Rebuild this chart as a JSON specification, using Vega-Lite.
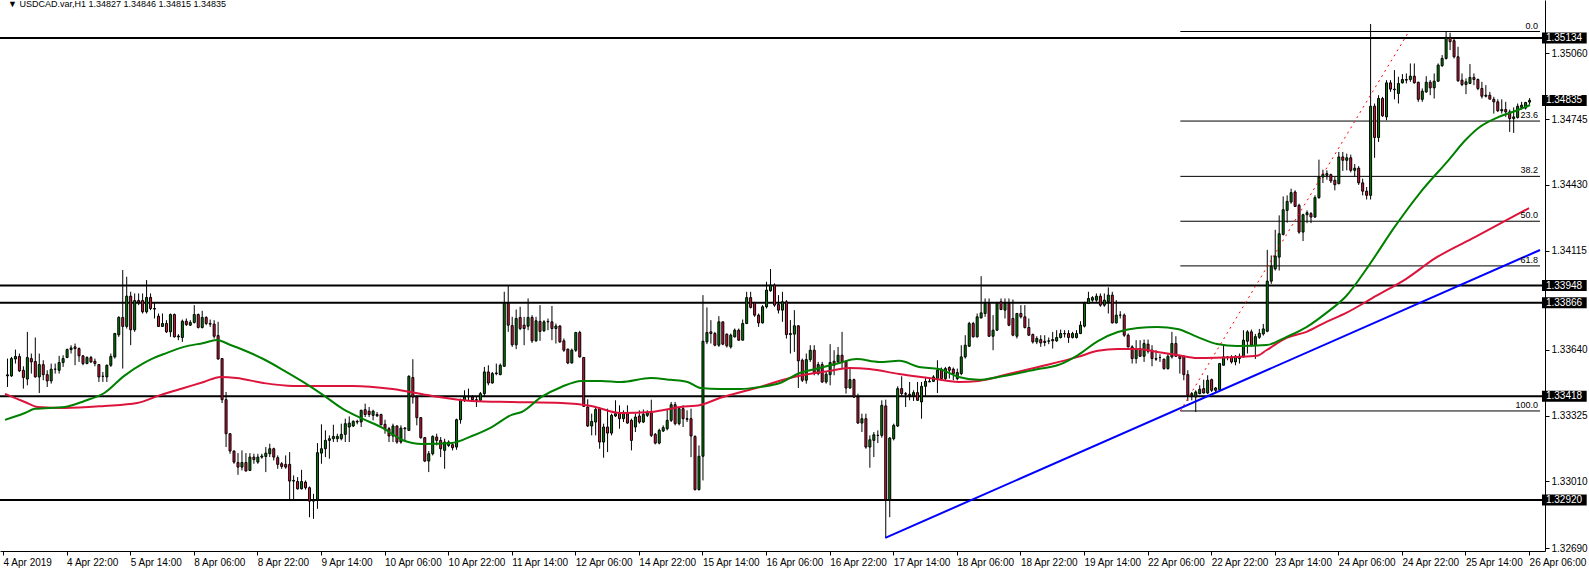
{
"$schema":"https://vega.github.io/schema/vega-lite/v6.json",
"width":1545,"height":551,"autosize":"none",
"padding":{"left":0,"top":0,"right":44,"bottom":18},
"background":"white",
"config":{"view":{"stroke":null},"font":"Liberation Sans"},
"datasets":{
"caption":[{"t":"▼ USDCAD.var,H1  1.34827 1.34846 1.34815 1.34835"}],
"levels":[{"p":1.35134},{"p":1.33948},{"p":1.33866},{"p":1.33418},{"p":1.3292}],
"fib":[{"p":1.35165,"t":"0.0"},{"p":1.34736,"t":"23.6"},{"p":1.34471,"t":"38.2"},{"p":1.34256,"t":"50.0"},{"p":1.34042,"t":"61.8"},{"p":1.33347,"t":"100.0"}],
"tags":[{"p":1.35134},{"p":1.34835},{"p":1.33948},{"p":1.33866},{"p":1.33418},{"p":1.3292}],
"trend":[{"i1":221,"p1":1.32739,"i2":385.75,"p2":1.34118}],
"fibline":[{"i1":295.25,"p1":1.33347,"i2":352.75,"p2":1.35165}],
"gma":[{"i":-0.5,"p":1.33304},{"i":4.5,"p":1.33337},{"i":7,"p":1.33357},{"i":14.5,"p":1.33366},{"i":19.5,"p":1.33395},{"i":24.5,"p":1.33433},{"i":29.5,"p":1.33515},{"i":34.5,"p":1.33577},{"i":37,"p":1.33601},{"i":39.5,"p":1.3362},{"i":44.5,"p":1.33654},{"i":49.5,"p":1.33673},{"i":52.75,"p":1.33687},{"i":56.25,"p":1.33663},{"i":59.5,"p":1.33639},{"i":64.5,"p":1.33596},{"i":69.5,"p":1.33543},{"i":74.5,"p":1.33486},{"i":79.5,"p":1.33424},{"i":84.5,"p":1.33357},{"i":89.5,"p":1.33309},{"i":94.5,"p":1.33266},{"i":99.5,"p":1.33208},{"i":104.5,"p":1.33189},{"i":112,"p":1.33194},{"i":117,"p":1.33227},{"i":122,"p":1.3327},{"i":127,"p":1.33328},{"i":129.5,"p":1.33342},{"i":134.5,"p":1.33414},{"i":139.5,"p":1.33462},{"i":144.5,"p":1.33491},{"i":149.5,"p":1.33491},{"i":154.5,"p":1.33486},{"i":162,"p":1.33505},{"i":167,"p":1.33496},{"i":171.25,"p":1.33486},{"i":174.5,"p":1.33457},{"i":179.5,"p":1.33452},{"i":184.5,"p":1.33452},{"i":189.5,"p":1.33462},{"i":194.5,"p":1.33481},{"i":199.5,"p":1.33529},{"i":204.5,"p":1.33553},{"i":209.5,"p":1.33577},{"i":213.75,"p":1.33596},{"i":219.5,"p":1.33582},{"i":224.5,"p":1.33587},{"i":229.5,"p":1.33558},{"i":234.5,"p":1.33548},{"i":239.5,"p":1.3351},{"i":244.5,"p":1.33496},{"i":249.5,"p":1.3351},{"i":259.5,"p":1.33548},{"i":264.5,"p":1.33567},{"i":269.5,"p":1.33615},{"i":274.5,"p":1.33682},{"i":279.5,"p":1.33725},{"i":284.5,"p":1.33745},{"i":289.5,"p":1.33749},{"i":294.5,"p":1.3374},{"i":299.5,"p":1.33702},{"i":304.5,"p":1.33668},{"i":309.5,"p":1.33658},{"i":317,"p":1.33663},{"i":322,"p":1.33702},{"i":327,"p":1.33749},{"i":332,"p":1.33817},{"i":337,"p":1.33898},{"i":342.75,"p":1.34046},{"i":349,"p":1.34224},{"i":355.5,"p":1.34391},{"i":362.75,"p":1.34549},{"i":367,"p":1.34645},{"i":370.25,"p":1.34703},{"i":375.25,"p":1.34755},{"i":380.25,"p":1.34789},{"i":383.25,"p":1.34813}],
"rma":[{"i":-0.5,"p":1.33429},{"i":4.5,"p":1.3339},{"i":7.75,"p":1.33366},{"i":14.5,"p":1.33361},{"i":24.5,"p":1.33371},{"i":32.75,"p":1.33385},{"i":38.75,"p":1.33424},{"i":44.5,"p":1.33457},{"i":49.5,"p":1.33486},{"i":53.75,"p":1.3351},{"i":57.75,"p":1.33505},{"i":64.5,"p":1.33481},{"i":72,"p":1.33467},{"i":87,"p":1.33467},{"i":97,"p":1.33452},{"i":107,"p":1.33419},{"i":117,"p":1.33395},{"i":127,"p":1.3339},{"i":139.5,"p":1.33385},{"i":147,"p":1.33371},{"i":154.5,"p":1.33337},{"i":162,"p":1.33342},{"i":169.5,"p":1.33366},{"i":174.5,"p":1.33376},{"i":179.5,"p":1.3341},{"i":189.5,"p":1.33462},{"i":197,"p":1.33505},{"i":207,"p":1.33539},{"i":212,"p":1.33553},{"i":217,"p":1.33548},{"i":224.5,"p":1.33524},{"i":232,"p":1.33505},{"i":239.5,"p":1.33486},{"i":244.5,"p":1.33491},{"i":252,"p":1.33524},{"i":259.5,"p":1.33558},{"i":269.5,"p":1.33606},{"i":274.5,"p":1.33635},{"i":279.5,"p":1.33644},{"i":284.5,"p":1.33644},{"i":289.5,"p":1.3363},{"i":294.5,"p":1.33615},{"i":299.5,"p":1.33601},{"i":309.5,"p":1.33606},{"i":314.5,"p":1.33611},{"i":317,"p":1.33639},{"i":322,"p":1.33697},{"i":327,"p":1.33726},{"i":332,"p":1.33774},{"i":337,"p":1.33817},{"i":344.5,"p":1.33898},{"i":352,"p":1.33979},{"i":359.5,"p":1.3408},{"i":369.5,"p":1.34181},{"i":383,"p":1.34319}],
"candles":[
{"i":0,"o":1.33515,"h":1.33598,"l":1.33462,"c":1.3352},
{"i":1,"o":1.33515,"h":1.33606,"l":1.3351,"c":1.33598},
{"i":2,"o":1.33596,"h":1.33641,"l":1.33574,"c":1.33608},
{"i":3,"o":1.33608,"h":1.33622,"l":1.33534,"c":1.33539},
{"i":4,"o":1.33542,"h":1.33561,"l":1.33454,"c":1.33507},
{"i":5,"o":1.335,"h":1.33726,"l":1.3347,"c":1.33603},
{"i":6,"o":1.33598,"h":1.33622,"l":1.33526,"c":1.33582},
{"i":7,"o":1.33584,"h":1.33699,"l":1.33507,"c":1.3351},
{"i":8,"o":1.3351,"h":1.33622,"l":1.33433,"c":1.33569},
{"i":9,"o":1.33569,"h":1.3359,"l":1.33494,"c":1.33521},
{"i":10,"o":1.33521,"h":1.33542,"l":1.33462,"c":1.33491},
{"i":11,"o":1.33491,"h":1.33574,"l":1.33478,"c":1.33547},
{"i":12,"o":1.33547,"h":1.33574,"l":1.33526,"c":1.33547},
{"i":13,"o":1.33542,"h":1.33611,"l":1.33526,"c":1.33579},
{"i":14,"o":1.33579,"h":1.33614,"l":1.33558,"c":1.33598},
{"i":15,"o":1.33603,"h":1.33646,"l":1.336,"c":1.33641},
{"i":16,"o":1.33641,"h":1.33662,"l":1.33622,"c":1.33649},
{"i":17,"o":1.33654,"h":1.3367,"l":1.33566,"c":1.33646},
{"i":18,"o":1.33646,"h":1.33651,"l":1.33582,"c":1.33611},
{"i":19,"o":1.33611,"h":1.33614,"l":1.33566,"c":1.33574},
{"i":20,"o":1.33574,"h":1.33609,"l":1.33571,"c":1.33603},
{"i":21,"o":1.33603,"h":1.33611,"l":1.33577,"c":1.33582},
{"i":22,"o":1.33585,"h":1.33598,"l":1.33561,"c":1.33574},
{"i":23,"o":1.33569,"h":1.33571,"l":1.33486,"c":1.3351},
{"i":24,"o":1.33513,"h":1.33534,"l":1.33486,"c":1.33513},
{"i":25,"o":1.3351,"h":1.33569,"l":1.33486,"c":1.33566},
{"i":26,"o":1.33566,"h":1.33622,"l":1.33558,"c":1.33608},
{"i":27,"o":1.33606,"h":1.33721,"l":1.33598,"c":1.33718},
{"i":28,"o":1.33712,"h":1.33801,"l":1.33702,"c":1.33795},
{"i":29,"o":1.33795,"h":1.34022,"l":1.3355,"c":1.33752},
{"i":30,"o":1.33752,"h":1.3399,"l":1.33742,"c":1.33897},
{"i":31,"o":1.33897,"h":1.33918,"l":1.33662,"c":1.33736},
{"i":32,"o":1.33736,"h":1.3391,"l":1.33726,"c":1.33876},
{"i":33,"o":1.33876,"h":1.3391,"l":1.33854,"c":1.33866},
{"i":34,"o":1.33876,"h":1.3391,"l":1.33814,"c":1.33822},
{"i":35,"o":1.33822,"h":1.33974,"l":1.33814,"c":1.33891},
{"i":36,"o":1.33891,"h":1.3391,"l":1.3383,"c":1.33838},
{"i":37,"o":1.33838,"h":1.33865,"l":1.3379,"c":1.33835},
{"i":38,"o":1.33801,"h":1.33814,"l":1.3375,"c":1.33752},
{"i":39,"o":1.33752,"h":1.33814,"l":1.3375,"c":1.33766},
{"i":40,"o":1.33766,"h":1.33782,"l":1.33721,"c":1.33726},
{"i":41,"o":1.33726,"h":1.33814,"l":1.33702,"c":1.33809},
{"i":42,"o":1.33809,"h":1.33814,"l":1.33699,"c":1.33702},
{"i":43,"o":1.33702,"h":1.33715,"l":1.33686,"c":1.33706},
{"i":44,"o":1.33699,"h":1.33785,"l":1.33678,"c":1.33777},
{"i":45,"o":1.33777,"h":1.3379,"l":1.33754,"c":1.33761},
{"i":46,"o":1.33758,"h":1.33782,"l":1.33754,"c":1.33771},
{"i":47,"o":1.33771,"h":1.33854,"l":1.33766,"c":1.33809},
{"i":48,"o":1.33809,"h":1.33814,"l":1.33742,"c":1.33747},
{"i":49,"o":1.33747,"h":1.33827,"l":1.33742,"c":1.33795},
{"i":50,"o":1.33795,"h":1.33801,"l":1.33758,"c":1.33766},
{"i":51,"o":1.33766,"h":1.33785,"l":1.3375,"c":1.33763},
{"i":52,"o":1.33763,"h":1.33782,"l":1.33694,"c":1.33705},
{"i":53,"o":1.33708,"h":1.33774,"l":1.33593,"c":1.33596},
{"i":54,"o":1.33598,"h":1.33598,"l":1.33385,"c":1.33401},
{"i":55,"o":1.33401,"h":1.33438,"l":1.33174,"c":1.33238},
{"i":56,"o":1.33238,"h":1.33238,"l":1.33142,"c":1.33155},
{"i":57,"o":1.33155,"h":1.33158,"l":1.33094,"c":1.33102},
{"i":58,"o":1.331,"h":1.33145,"l":1.33041,"c":1.33078},
{"i":59,"o":1.33078,"h":1.33158,"l":1.33062,"c":1.331},
{"i":60,"o":1.331,"h":1.33145,"l":1.33059,"c":1.33059},
{"i":61,"o":1.33062,"h":1.33145,"l":1.33059,"c":1.33126},
{"i":62,"o":1.33126,"h":1.33142,"l":1.33094,"c":1.33114},
{"i":63,"o":1.33102,"h":1.33142,"l":1.33094,"c":1.33126},
{"i":64,"o":1.33126,"h":1.33142,"l":1.33118,"c":1.33131},
{"i":65,"o":1.33129,"h":1.33174,"l":1.33054,"c":1.33145},
{"i":66,"o":1.33142,"h":1.3319,"l":1.33126,"c":1.33166},
{"i":67,"o":1.33166,"h":1.33171,"l":1.3311,"c":1.33126},
{"i":68,"o":1.33123,"h":1.33134,"l":1.3307,"c":1.33091},
{"i":69,"o":1.33094,"h":1.33102,"l":1.3307,"c":1.33081},
{"i":70,"o":1.33091,"h":1.33134,"l":1.3307,"c":1.33078},
{"i":71,"o":1.33091,"h":1.3315,"l":1.32921,"c":1.33011},
{"i":72,"o":1.33011,"h":1.33038,"l":1.32921,"c":1.33014},
{"i":73,"o":1.33009,"h":1.3303,"l":1.3297,"c":1.32974},
{"i":74,"o":1.32974,"h":1.33065,"l":1.32971,"c":1.33009},
{"i":75,"o":1.33006,"h":1.33014,"l":1.3297,"c":1.32979},
{"i":76,"o":1.32979,"h":1.32985,"l":1.32838,"c":1.32915},
{"i":77,"o":1.32915,"h":1.3295,"l":1.3283,"c":1.32921},
{"i":78,"o":1.32921,"h":1.33193,"l":1.32878,"c":1.33147},
{"i":79,"o":1.33145,"h":1.33283,"l":1.33094,"c":1.33166},
{"i":80,"o":1.33166,"h":1.33254,"l":1.33126,"c":1.33206},
{"i":81,"o":1.33206,"h":1.3323,"l":1.33118,"c":1.33214},
{"i":82,"o":1.33214,"h":1.33281,"l":1.33198,"c":1.33225},
{"i":83,"o":1.33214,"h":1.33238,"l":1.33198,"c":1.33225},
{"i":84,"o":1.33214,"h":1.33286,"l":1.33206,"c":1.33235},
{"i":85,"o":1.33235,"h":1.3331,"l":1.33198,"c":1.33286},
{"i":86,"o":1.3327,"h":1.33321,"l":1.33198,"c":1.33289},
{"i":87,"o":1.33275,"h":1.33302,"l":1.3327,"c":1.33297},
{"i":88,"o":1.33294,"h":1.33305,"l":1.33283,"c":1.33297},
{"i":89,"o":1.33294,"h":1.33353,"l":1.3327,"c":1.3335},
{"i":90,"o":1.33353,"h":1.33382,"l":1.33318,"c":1.3333},
{"i":91,"o":1.33346,"h":1.33366,"l":1.33318,"c":1.3333},
{"i":92,"o":1.33326,"h":1.33353,"l":1.33302,"c":1.33346},
{"i":93,"o":1.3333,"h":1.33342,"l":1.33318,"c":1.33324},
{"i":94,"o":1.3333,"h":1.33334,"l":1.33278,"c":1.33281},
{"i":95,"o":1.33283,"h":1.33305,"l":1.33238,"c":1.33262},
{"i":96,"o":1.33262,"h":1.3327,"l":1.33198,"c":1.33227},
{"i":97,"o":1.33227,"h":1.33286,"l":1.33198,"c":1.33275},
{"i":98,"o":1.33275,"h":1.33278,"l":1.3319,"c":1.33198},
{"i":99,"o":1.33198,"h":1.33278,"l":1.3319,"c":1.33265},
{"i":100,"o":1.33265,"h":1.3327,"l":1.33198,"c":1.33262},
{"i":101,"o":1.33254,"h":1.33518,"l":1.33251,"c":1.33513},
{"i":102,"o":1.33507,"h":1.33595,"l":1.33382,"c":1.33414},
{"i":103,"o":1.33414,"h":1.33422,"l":1.33278,"c":1.33315},
{"i":104,"o":1.33315,"h":1.33318,"l":1.33214,"c":1.33219},
{"i":105,"o":1.33219,"h":1.33222,"l":1.33102,"c":1.33107},
{"i":106,"o":1.33107,"h":1.33155,"l":1.33054,"c":1.33142},
{"i":107,"o":1.33142,"h":1.3323,"l":1.33134,"c":1.33225},
{"i":108,"o":1.33222,"h":1.33238,"l":1.33182,"c":1.33206},
{"i":109,"o":1.33206,"h":1.33222,"l":1.33126,"c":1.33166},
{"i":110,"o":1.33158,"h":1.33214,"l":1.3307,"c":1.33198},
{"i":111,"o":1.33182,"h":1.33206,"l":1.33174,"c":1.33198},
{"i":112,"o":1.33185,"h":1.33198,"l":1.33158,"c":1.33171},
{"i":113,"o":1.33174,"h":1.3331,"l":1.33161,"c":1.33305},
{"i":114,"o":1.33305,"h":1.33406,"l":1.33286,"c":1.33398},
{"i":115,"o":1.33398,"h":1.33446,"l":1.3339,"c":1.33414},
{"i":116,"o":1.33414,"h":1.33454,"l":1.33398,"c":1.33417},
{"i":117,"o":1.33414,"h":1.33422,"l":1.3339,"c":1.33401},
{"i":118,"o":1.33401,"h":1.33414,"l":1.33366,"c":1.33398},
{"i":119,"o":1.33398,"h":1.33438,"l":1.3339,"c":1.3343},
{"i":120,"o":1.3343,"h":1.33558,"l":1.33414,"c":1.33534},
{"i":121,"o":1.33534,"h":1.33566,"l":1.3347,"c":1.33481},
{"i":122,"o":1.33481,"h":1.33534,"l":1.33478,"c":1.33526},
{"i":123,"o":1.33526,"h":1.33574,"l":1.33518,"c":1.33529},
{"i":124,"o":1.33521,"h":1.33574,"l":1.33518,"c":1.33566},
{"i":125,"o":1.33561,"h":1.33918,"l":1.33558,"c":1.33862},
{"i":126,"o":1.33862,"h":1.3395,"l":1.33726,"c":1.33758},
{"i":127,"o":1.33756,"h":1.33798,"l":1.33654,"c":1.33664},
{"i":128,"o":1.33664,"h":1.33833,"l":1.33643,"c":1.3379},
{"i":129,"o":1.33795,"h":1.33846,"l":1.33734,"c":1.33742},
{"i":130,"o":1.33758,"h":1.33798,"l":1.33662,"c":1.33742},
{"i":131,"o":1.33753,"h":1.33886,"l":1.33734,"c":1.33795},
{"i":132,"o":1.33795,"h":1.33806,"l":1.33673,"c":1.33683},
{"i":133,"o":1.33683,"h":1.33798,"l":1.33678,"c":1.33779},
{"i":134,"o":1.33776,"h":1.33854,"l":1.33683,"c":1.33728},
{"i":135,"o":1.33731,"h":1.33782,"l":1.33726,"c":1.33774},
{"i":136,"o":1.33774,"h":1.3379,"l":1.33734,"c":1.33776},
{"i":137,"o":1.33774,"h":1.3385,"l":1.33686,"c":1.33742},
{"i":138,"o":1.33742,"h":1.33766,"l":1.3367,"c":1.33754},
{"i":139,"o":1.33754,"h":1.33758,"l":1.33673,"c":1.33678},
{"i":140,"o":1.33683,"h":1.33694,"l":1.3363,"c":1.33638},
{"i":141,"o":1.33643,"h":1.33646,"l":1.33571,"c":1.33577},
{"i":142,"o":1.33577,"h":1.33646,"l":1.33574,"c":1.33638},
{"i":143,"o":1.33638,"h":1.33726,"l":1.3363,"c":1.33723},
{"i":144,"o":1.33723,"h":1.33731,"l":1.33603,"c":1.33606},
{"i":145,"o":1.33603,"h":1.33606,"l":1.33366,"c":1.33369},
{"i":146,"o":1.33366,"h":1.33403,"l":1.3327,"c":1.33275},
{"i":147,"o":1.33275,"h":1.33334,"l":1.3323,"c":1.33297},
{"i":148,"o":1.33294,"h":1.33366,"l":1.3323,"c":1.33354},
{"i":149,"o":1.33358,"h":1.33366,"l":1.33166,"c":1.33198},
{"i":150,"o":1.33198,"h":1.33286,"l":1.33123,"c":1.3327},
{"i":151,"o":1.3327,"h":1.33358,"l":1.3315,"c":1.33241},
{"i":152,"o":1.33241,"h":1.33334,"l":1.3323,"c":1.33326},
{"i":153,"o":1.33323,"h":1.33398,"l":1.33318,"c":1.33334},
{"i":154,"o":1.33334,"h":1.33374,"l":1.33262,"c":1.3331},
{"i":155,"o":1.3331,"h":1.3335,"l":1.33294,"c":1.33334},
{"i":156,"o":1.33334,"h":1.33374,"l":1.33286,"c":1.33289},
{"i":157,"o":1.33302,"h":1.3331,"l":1.33158,"c":1.33206},
{"i":158,"o":1.3327,"h":1.33334,"l":1.33246,"c":1.33318},
{"i":159,"o":1.33323,"h":1.3335,"l":1.33286,"c":1.33294},
{"i":160,"o":1.33294,"h":1.33354,"l":1.33289,"c":1.33331},
{"i":161,"o":1.33326,"h":1.3335,"l":1.33318,"c":1.33339},
{"i":162,"o":1.33339,"h":1.33401,"l":1.33222,"c":1.3323},
{"i":163,"o":1.33235,"h":1.33241,"l":1.33187,"c":1.33193},
{"i":164,"o":1.33193,"h":1.33262,"l":1.33187,"c":1.33254},
{"i":165,"o":1.33251,"h":1.33278,"l":1.33246,"c":1.33267},
{"i":166,"o":1.33262,"h":1.33354,"l":1.33254,"c":1.33302},
{"i":167,"o":1.33302,"h":1.3339,"l":1.33294,"c":1.33377},
{"i":168,"o":1.33377,"h":1.3339,"l":1.33278,"c":1.33286},
{"i":169,"o":1.33286,"h":1.33366,"l":1.33278,"c":1.33358},
{"i":170,"o":1.33358,"h":1.33374,"l":1.3327,"c":1.3331},
{"i":171,"o":1.3331,"h":1.3335,"l":1.33294,"c":1.33307},
{"i":172,"o":1.3331,"h":1.33358,"l":1.33126,"c":1.33227},
{"i":173,"o":1.33225,"h":1.3323,"l":1.32966,"c":1.3297},
{"i":174,"o":1.3297,"h":1.33182,"l":1.32966,"c":1.3313},
{"i":175,"o":1.3313,"h":1.33902,"l":1.33014,"c":1.33681},
{"i":176,"o":1.33678,"h":1.33843,"l":1.33667,"c":1.33723},
{"i":177,"o":1.33726,"h":1.33782,"l":1.3367,"c":1.33718},
{"i":178,"o":1.33718,"h":1.33726,"l":1.33657,"c":1.33662},
{"i":179,"o":1.33662,"h":1.33801,"l":1.33654,"c":1.33774},
{"i":180,"o":1.33774,"h":1.33774,"l":1.33662,"c":1.33667},
{"i":181,"o":1.33715,"h":1.33718,"l":1.33651,"c":1.33659},
{"i":182,"o":1.33654,"h":1.33718,"l":1.33646,"c":1.3371},
{"i":183,"o":1.33702,"h":1.33742,"l":1.33699,"c":1.33734},
{"i":184,"o":1.33734,"h":1.33742,"l":1.33683,"c":1.33686},
{"i":185,"o":1.33686,"h":1.33785,"l":1.33686,"c":1.33766},
{"i":186,"o":1.33766,"h":1.33918,"l":1.33763,"c":1.3389},
{"i":187,"o":1.3389,"h":1.33918,"l":1.33838,"c":1.33843},
{"i":188,"o":1.33865,"h":1.3387,"l":1.33798,"c":1.33806},
{"i":189,"o":1.33806,"h":1.33814,"l":1.3375,"c":1.33769},
{"i":190,"o":1.33769,"h":1.33854,"l":1.33766,"c":1.33846},
{"i":191,"o":1.33846,"h":1.33966,"l":1.33838,"c":1.33926},
{"i":192,"o":1.33923,"h":1.34027,"l":1.33918,"c":1.3395},
{"i":193,"o":1.3395,"h":1.33958,"l":1.33846,"c":1.33854},
{"i":194,"o":1.33857,"h":1.33902,"l":1.33814,"c":1.3383},
{"i":195,"o":1.3383,"h":1.33918,"l":1.33774,"c":1.3387},
{"i":196,"o":1.3387,"h":1.33878,"l":1.33694,"c":1.33713},
{"i":197,"o":1.33713,"h":1.33782,"l":1.33622,"c":1.33718},
{"i":198,"o":1.33715,"h":1.3383,"l":1.3363,"c":1.33755},
{"i":199,"o":1.33755,"h":1.33758,"l":1.33457,"c":1.33587},
{"i":200,"o":1.3359,"h":1.33598,"l":1.33486,"c":1.33494},
{"i":201,"o":1.33494,"h":1.33622,"l":1.33478,"c":1.33593},
{"i":202,"o":1.33593,"h":1.33662,"l":1.33582,"c":1.33638},
{"i":203,"o":1.33638,"h":1.33662,"l":1.33518,"c":1.33526},
{"i":204,"o":1.33526,"h":1.33582,"l":1.33518,"c":1.33569},
{"i":205,"o":1.33569,"h":1.33582,"l":1.33481,"c":1.33486},
{"i":206,"o":1.33486,"h":1.33534,"l":1.33478,"c":1.33523},
{"i":207,"o":1.33521,"h":1.33667,"l":1.3347,"c":1.33579},
{"i":208,"o":1.33585,"h":1.33638,"l":1.33518,"c":1.33566},
{"i":209,"o":1.33582,"h":1.33654,"l":1.33574,"c":1.33614},
{"i":210,"o":1.33614,"h":1.33726,"l":1.3355,"c":1.33582},
{"i":211,"o":1.33585,"h":1.3359,"l":1.3343,"c":1.33457},
{"i":212,"o":1.33457,"h":1.3355,"l":1.33454,"c":1.33497},
{"i":213,"o":1.33497,"h":1.33502,"l":1.33409,"c":1.33414},
{"i":214,"o":1.33414,"h":1.3343,"l":1.33286,"c":1.33289},
{"i":215,"o":1.33289,"h":1.33334,"l":1.33246,"c":1.3331},
{"i":216,"o":1.3331,"h":1.33334,"l":1.33166,"c":1.33174},
{"i":217,"o":1.33174,"h":1.3323,"l":1.33075,"c":1.33209},
{"i":218,"o":1.33206,"h":1.33246,"l":1.33126,"c":1.33233},
{"i":219,"o":1.3323,"h":1.33254,"l":1.33193,"c":1.3323},
{"i":220,"o":1.3323,"h":1.33398,"l":1.33219,"c":1.33374},
{"i":221,"o":1.33371,"h":1.33401,"l":1.32739,"c":1.32921},
{"i":222,"o":1.32921,"h":1.33222,"l":1.32838,"c":1.33217},
{"i":223,"o":1.33214,"h":1.33286,"l":1.33206,"c":1.33278},
{"i":224,"o":1.33275,"h":1.33465,"l":1.3327,"c":1.33454},
{"i":225,"o":1.33454,"h":1.33513,"l":1.33414,"c":1.3343},
{"i":226,"o":1.3343,"h":1.33438,"l":1.33366,"c":1.33427},
{"i":227,"o":1.33427,"h":1.33486,"l":1.33398,"c":1.3342},
{"i":228,"o":1.33419,"h":1.33446,"l":1.33395,"c":1.33435},
{"i":229,"o":1.33435,"h":1.33486,"l":1.33395,"c":1.33398},
{"i":230,"o":1.3339,"h":1.33486,"l":1.3331,"c":1.33465},
{"i":231,"o":1.33465,"h":1.3351,"l":1.33414,"c":1.33489},
{"i":232,"o":1.33489,"h":1.33502,"l":1.33486,"c":1.33486},
{"i":233,"o":1.33489,"h":1.33518,"l":1.33486,"c":1.3351},
{"i":234,"o":1.33502,"h":1.3359,"l":1.33433,"c":1.33542},
{"i":235,"o":1.33547,"h":1.33555,"l":1.33494,"c":1.33502},
{"i":236,"o":1.33502,"h":1.33558,"l":1.33494,"c":1.3355},
{"i":237,"o":1.33555,"h":1.33561,"l":1.33502,"c":1.33542},
{"i":238,"o":1.33547,"h":1.33555,"l":1.33494,"c":1.33526},
{"i":239,"o":1.33502,"h":1.3355,"l":1.33494,"c":1.33531},
{"i":240,"o":1.33526,"h":1.33662,"l":1.33518,"c":1.33606},
{"i":241,"o":1.33606,"h":1.3371,"l":1.33598,"c":1.33662},
{"i":242,"o":1.33657,"h":1.33774,"l":1.33654,"c":1.33766},
{"i":243,"o":1.33766,"h":1.33774,"l":1.33699,"c":1.33702},
{"i":244,"o":1.33702,"h":1.33814,"l":1.33699,"c":1.33798},
{"i":245,"o":1.33793,"h":1.33993,"l":1.3379,"c":1.33817},
{"i":246,"o":1.33814,"h":1.33886,"l":1.33798,"c":1.33862},
{"i":247,"o":1.33862,"h":1.33886,"l":1.33702,"c":1.33705},
{"i":248,"o":1.33705,"h":1.33806,"l":1.33638,"c":1.33734},
{"i":249,"o":1.33734,"h":1.3387,"l":1.33731,"c":1.33862},
{"i":250,"o":1.3387,"h":1.33886,"l":1.3383,"c":1.33833},
{"i":251,"o":1.3383,"h":1.33886,"l":1.3379,"c":1.33862},
{"i":252,"o":1.33862,"h":1.33886,"l":1.33753,"c":1.33758},
{"i":253,"o":1.3379,"h":1.33881,"l":1.33705,"c":1.3371},
{"i":254,"o":1.33705,"h":1.33817,"l":1.33694,"c":1.33814},
{"i":255,"o":1.33814,"h":1.33854,"l":1.3379,"c":1.33798},
{"i":256,"o":1.33798,"h":1.33854,"l":1.33742,"c":1.33747},
{"i":257,"o":1.33747,"h":1.3379,"l":1.33707,"c":1.3371},
{"i":258,"o":1.33713,"h":1.33718,"l":1.3367,"c":1.33678},
{"i":259,"o":1.33678,"h":1.33705,"l":1.33667,"c":1.33694},
{"i":260,"o":1.33689,"h":1.3371,"l":1.33654,"c":1.33673},
{"i":261,"o":1.33675,"h":1.3371,"l":1.33657,"c":1.33681},
{"i":262,"o":1.33681,"h":1.33699,"l":1.33667,"c":1.33683},
{"i":263,"o":1.33689,"h":1.33726,"l":1.33646,"c":1.33683},
{"i":264,"o":1.33683,"h":1.33734,"l":1.33678,"c":1.33699},
{"i":265,"o":1.33699,"h":1.33737,"l":1.33694,"c":1.33718},
{"i":266,"o":1.33718,"h":1.33734,"l":1.33699,"c":1.33716},
{"i":267,"o":1.33718,"h":1.33734,"l":1.33673,"c":1.33699},
{"i":268,"o":1.33699,"h":1.33726,"l":1.33694,"c":1.33718},
{"i":269,"o":1.33699,"h":1.33734,"l":1.33694,"c":1.33718},
{"i":270,"o":1.33718,"h":1.33777,"l":1.33715,"c":1.33758},
{"i":271,"o":1.33753,"h":1.3387,"l":1.33747,"c":1.33862},
{"i":272,"o":1.33862,"h":1.33918,"l":1.33859,"c":1.33886},
{"i":273,"o":1.33878,"h":1.33897,"l":1.3387,"c":1.3389},
{"i":274,"o":1.33878,"h":1.3391,"l":1.3387,"c":1.33897},
{"i":275,"o":1.33897,"h":1.3391,"l":1.33846,"c":1.33854},
{"i":276,"o":1.33854,"h":1.3391,"l":1.33846,"c":1.33878},
{"i":277,"o":1.3387,"h":1.33939,"l":1.33814,"c":1.33902},
{"i":278,"o":1.33902,"h":1.33918,"l":1.33766,"c":1.33769},
{"i":279,"o":1.33769,"h":1.33878,"l":1.33766,"c":1.33806},
{"i":280,"o":1.33806,"h":1.33825,"l":1.3379,"c":1.33806},
{"i":281,"o":1.33806,"h":1.33814,"l":1.33702,"c":1.3371},
{"i":282,"o":1.3371,"h":1.33718,"l":1.33651,"c":1.33654},
{"i":283,"o":1.33654,"h":1.33662,"l":1.33574,"c":1.33598},
{"i":284,"o":1.33598,"h":1.33686,"l":1.33574,"c":1.33646},
{"i":285,"o":1.33646,"h":1.33686,"l":1.33606,"c":1.33609},
{"i":286,"o":1.33609,"h":1.33689,"l":1.33582,"c":1.3367},
{"i":287,"o":1.33667,"h":1.33689,"l":1.33622,"c":1.33633},
{"i":288,"o":1.33638,"h":1.33662,"l":1.33561,"c":1.33598},
{"i":289,"o":1.33598,"h":1.33638,"l":1.33587,"c":1.33595},
{"i":290,"o":1.33603,"h":1.33619,"l":1.33582,"c":1.33603},
{"i":291,"o":1.33595,"h":1.33598,"l":1.33545,"c":1.3355},
{"i":292,"o":1.3355,"h":1.33622,"l":1.33545,"c":1.33609},
{"i":293,"o":1.33606,"h":1.33726,"l":1.33598,"c":1.3367},
{"i":294,"o":1.3367,"h":1.33705,"l":1.33606,"c":1.33609},
{"i":295,"o":1.33609,"h":1.33614,"l":1.33526,"c":1.33598},
{"i":296,"o":1.33609,"h":1.33614,"l":1.33494,"c":1.33521},
{"i":297,"o":1.33521,"h":1.33542,"l":1.33395,"c":1.33422},
{"i":298,"o":1.33422,"h":1.33438,"l":1.33398,"c":1.3343},
{"i":299,"o":1.33414,"h":1.33446,"l":1.33342,"c":1.33438},
{"i":300,"o":1.3343,"h":1.3347,"l":1.33427,"c":1.33451},
{"i":301,"o":1.33454,"h":1.33497,"l":1.3343,"c":1.33433},
{"i":302,"o":1.33433,"h":1.33518,"l":1.33427,"c":1.33494},
{"i":303,"o":1.33497,"h":1.33502,"l":1.33438,"c":1.33446},
{"i":304,"o":1.33446,"h":1.33462,"l":1.33438,"c":1.33457},
{"i":305,"o":1.33449,"h":1.33577,"l":1.33446,"c":1.33574},
{"i":306,"o":1.33566,"h":1.33662,"l":1.33566,"c":1.33606},
{"i":307,"o":1.33606,"h":1.33609,"l":1.3359,"c":1.33603},
{"i":308,"o":1.33606,"h":1.33614,"l":1.33574,"c":1.33582},
{"i":309,"o":1.33582,"h":1.33614,"l":1.33566,"c":1.33609},
{"i":310,"o":1.33598,"h":1.33622,"l":1.33574,"c":1.33609},
{"i":311,"o":1.33606,"h":1.33734,"l":1.33603,"c":1.33686},
{"i":312,"o":1.33681,"h":1.33734,"l":1.33622,"c":1.33726},
{"i":313,"o":1.33726,"h":1.33737,"l":1.33654,"c":1.33662},
{"i":314,"o":1.3366,"h":1.33716,"l":1.33596,"c":1.33703},
{"i":315,"o":1.337,"h":1.3374,"l":1.33692,"c":1.33719},
{"i":316,"o":1.33716,"h":1.33764,"l":1.33708,"c":1.3374},
{"i":317,"o":1.33729,"h":1.34119,"l":1.33724,"c":1.33969},
{"i":318,"o":1.33969,"h":1.34092,"l":1.33956,"c":1.3404},
{"i":319,"o":1.34028,"h":1.34215,"l":1.3402,"c":1.34089},
{"i":320,"o":1.34084,"h":1.34284,"l":1.3402,"c":1.34196},
{"i":321,"o":1.34193,"h":1.34375,"l":1.34188,"c":1.34311},
{"i":322,"o":1.34308,"h":1.3438,"l":1.34249,"c":1.34351},
{"i":323,"o":1.34348,"h":1.34412,"l":1.3434,"c":1.34393},
{"i":324,"o":1.34396,"h":1.34404,"l":1.34324,"c":1.34327},
{"i":325,"o":1.34332,"h":1.3434,"l":1.34196,"c":1.34204},
{"i":326,"o":1.34204,"h":1.34292,"l":1.34161,"c":1.34287},
{"i":327,"o":1.34287,"h":1.34308,"l":1.34247,"c":1.34297},
{"i":328,"o":1.34292,"h":1.343,"l":1.34247,"c":1.34276},
{"i":329,"o":1.34276,"h":1.3438,"l":1.34273,"c":1.34369},
{"i":330,"o":1.34369,"h":1.34551,"l":1.34364,"c":1.34468},
{"i":331,"o":1.34468,"h":1.34503,"l":1.34439,"c":1.34481},
{"i":332,"o":1.34476,"h":1.345,"l":1.34455,"c":1.34484},
{"i":333,"o":1.34479,"h":1.34484,"l":1.34439,"c":1.34449},
{"i":334,"o":1.34452,"h":1.34468,"l":1.34404,"c":1.34431},
{"i":335,"o":1.34436,"h":1.34588,"l":1.34433,"c":1.34564},
{"i":336,"o":1.34564,"h":1.34588,"l":1.34497,"c":1.34548},
{"i":337,"o":1.34548,"h":1.3458,"l":1.345,"c":1.3456},
{"i":338,"o":1.3456,"h":1.34575,"l":1.3449,"c":1.345},
{"i":339,"o":1.345,"h":1.3453,"l":1.3447,"c":1.3451},
{"i":340,"o":1.3451,"h":1.3452,"l":1.3443,"c":1.3444},
{"i":341,"o":1.3444,"h":1.3446,"l":1.3438,"c":1.344},
{"i":342,"o":1.344,"h":1.3442,"l":1.3436,"c":1.3438},
{"i":343,"o":1.3438,"h":1.35201,"l":1.3436,"c":1.34807},
{"i":344,"o":1.34807,"h":1.3482,"l":1.3456,"c":1.34657},
{"i":345,"o":1.34657,"h":1.3486,"l":1.34636,"c":1.34844},
{"i":346,"o":1.34844,"h":1.34852,"l":1.34756,"c":1.34761},
{"i":347,"o":1.34756,"h":1.34932,"l":1.3474,"c":1.34919},
{"i":348,"o":1.34919,"h":1.34932,"l":1.34876,"c":1.34889},
{"i":349,"o":1.34889,"h":1.3498,"l":1.3484,"c":1.34886},
{"i":350,"o":1.34868,"h":1.34948,"l":1.3482,"c":1.34916},
{"i":351,"o":1.34919,"h":1.34961,"l":1.34916,"c":1.34935},
{"i":352,"o":1.34935,"h":1.34964,"l":1.34916,"c":1.34932},
{"i":353,"o":1.34935,"h":1.35012,"l":1.34924,"c":1.34951},
{"i":354,"o":1.34951,"h":1.35012,"l":1.34916,"c":1.34919},
{"i":355,"o":1.34922,"h":1.34924,"l":1.34828,"c":1.3484},
{"i":356,"o":1.3484,"h":1.34892,"l":1.34828,"c":1.34879},
{"i":357,"o":1.34876,"h":1.34951,"l":1.34871,"c":1.34922},
{"i":358,"o":1.34922,"h":1.34932,"l":1.3486,"c":1.34895},
{"i":359,"o":1.34895,"h":1.34964,"l":1.34844,"c":1.34927},
{"i":360,"o":1.34927,"h":1.35012,"l":1.34924,"c":1.35004},
{"i":361,"o":1.35001,"h":1.35052,"l":1.34996,"c":1.35036},
{"i":362,"o":1.35036,"h":1.35164,"l":1.35031,"c":1.35137},
{"i":363,"o":1.35137,"h":1.35159,"l":1.35076,"c":1.35116},
{"i":364,"o":1.35121,"h":1.35137,"l":1.35036,"c":1.35044},
{"i":365,"o":1.35044,"h":1.35092,"l":1.34924,"c":1.34929},
{"i":366,"o":1.34932,"h":1.34964,"l":1.34903,"c":1.34911},
{"i":367,"o":1.34911,"h":1.3494,"l":1.34865,"c":1.34924},
{"i":368,"o":1.34916,"h":1.35009,"l":1.34913,"c":1.34945},
{"i":369,"o":1.34945,"h":1.34964,"l":1.34908,"c":1.34935},
{"i":370,"o":1.34935,"h":1.3494,"l":1.34884,"c":1.34892},
{"i":371,"o":1.34892,"h":1.34924,"l":1.34844,"c":1.34855},
{"i":372,"o":1.34855,"h":1.34908,"l":1.34849,"c":1.3486},
{"i":373,"o":1.3486,"h":1.34876,"l":1.3484,"c":1.34841},
{"i":374,"o":1.3484,"h":1.34852,"l":1.34772,"c":1.34828},
{"i":375,"o":1.34828,"h":1.3484,"l":1.3478,"c":1.34785},
{"i":376,"o":1.34785,"h":1.3484,"l":1.34772,"c":1.34791},
{"i":377,"o":1.34791,"h":1.34828,"l":1.34756,"c":1.3478},
{"i":378,"o":1.3478,"h":1.34791,"l":1.34684,"c":1.34748},
{"i":379,"o":1.34748,"h":1.34801,"l":1.34679,"c":1.34756},
{"i":380,"o":1.34753,"h":1.3482,"l":1.34748,"c":1.34807},
{"i":381,"o":1.34801,"h":1.34828,"l":1.34791,"c":1.34812},
{"i":382,"o":1.34798,"h":1.34828,"l":1.34791,"c":1.34825},
{"i":383,"o":1.34827,"h":1.34846,"l":1.34815,"c":1.34835}
]},
"layer":[
{"data":{"name":"levels"},"mark":{"type":"rule","stroke":"black","strokeWidth":2},
 "encoding":{"y":{"field":"p","type":"quantitative","title":null,"scale":{"domain":[1.32676,1.35316],"nice":false,"zero":false},
  "axis":{"orient":"right","values":[1.3522,1.3506,1.349,1.34745,1.34585,1.3443,1.3427,1.34115,1.33795,1.3364,1.3348,1.33325,1.33165,1.3301,1.3285,1.3269],"format":".5f","grid":false,"labelFont":"Liberation Sans","labelFontSize":10,"labelColor":"black","tickColor":"black","tickSize":4,"labelPadding":2,"domainColor":"black","domainWidth":1,"labelOverlap":false,"labelBound":false,"labelFlush":false,"title":null}}}},
{"data":{"name":"fib"},"mark":{"type":"rule","stroke":"black","strokeWidth":1},
 "encoding":{"y":{"field":"p","type":"quantitative","title":null},"x":{"datum":295.25,"type":"quantitative","title":null,"scale":{"domain":[-0.5,385.75],"nice":false,"zero":false}},"x2":{"datum":385.75}}},
{"data":{"name":"candles"},"mark":{"type":"rule","stroke":"black","strokeWidth":1,"xOffset":0.5},
 "encoding":{"x":{"field":"i","type":"quantitative","title":null,
   "axis":{"orient":"bottom","values":[-1,15,31,47,63,79,95,111,127,143,159,175,191,207,223,239,255,271,287,303,319,335,351,367,383],
   "labelExpr":"['4 Apr 2019','4 Apr 22:00','5 Apr 14:00','8 Apr 06:00','8 Apr 22:00','9 Apr 14:00','10 Apr 06:00','10 Apr 22:00','11 Apr 14:00','12 Apr 06:00','14 Apr 22:00','15 Apr 14:00','16 Apr 06:00','16 Apr 22:00','17 Apr 14:00','18 Apr 06:00','18 Apr 22:00','19 Apr 14:00','22 Apr 06:00','22 Apr 22:00','23 Apr 14:00','24 Apr 06:00','24 Apr 22:00','25 Apr 14:00','26 Apr 06:00'][round((datum.value+1)/16)]",
   "labelAlign":"left","labelBaseline":"top","labelPadding":2,"labelDx":2,"grid":false,"labelFont":"Liberation Sans","labelFontSize":10,"labelColor":"black","tickColor":"black","tickSize":4,"domainColor":"black","domainWidth":1,"labelOverlap":false,"labelBound":false,"labelFlush":false,"title":null}},
  "y":{"field":"l","type":"quantitative","title":null},"y2":{"field":"h"}}},
{"data":{"name":"candles"},"mark":{"type":"bar","width":2,"stroke":"black","strokeWidth":1,"xOffset":0.5},
 "encoding":{"x":{"field":"i","type":"quantitative","title":null},"y":{"field":"o","type":"quantitative","title":null},"y2":{"field":"c"},
  "fill":{"condition":{"test":"datum.c >= datum.o","value":"#008000"},"value":"#DC143C"}}},
{"data":{"name":"rma"},"mark":{"type":"line","stroke":"#DC143C","strokeWidth":2,"interpolate":"monotone"},
 "encoding":{"x":{"field":"i","type":"quantitative","title":null},"y":{"field":"p","type":"quantitative","title":null}}},
{"data":{"name":"gma"},"mark":{"type":"line","stroke":"#008000","strokeWidth":2,"interpolate":"monotone"},
 "encoding":{"x":{"field":"i","type":"quantitative","title":null},"y":{"field":"p","type":"quantitative","title":null}}},
{"data":{"name":"trend"},"mark":{"type":"rule","stroke":"#0000FF","strokeWidth":2},
 "encoding":{"x":{"field":"i1","type":"quantitative","title":null},"y":{"field":"p1","type":"quantitative","title":null},"x2":{"field":"i2"},"y2":{"field":"p2"}}},
{"data":{"name":"fibline"},"mark":{"type":"rule","stroke":"#FF0000","strokeWidth":1,"strokeDash":[2,4]},
 "encoding":{"x":{"field":"i1","type":"quantitative","title":null},"y":{"field":"p1","type":"quantitative","title":null},"x2":{"field":"i2"},"y2":{"field":"p2"}}},
{"data":{"name":"fib"},"mark":{"type":"text","align":"right","baseline":"bottom","dy":-1,"font":"Liberation Sans","fontSize":9,"fill":"black"},
 "encoding":{"x":{"datum":385.25,"type":"quantitative"},"y":{"field":"p","type":"quantitative","title":null},"text":{"field":"t"}}},
{"data":{"name":"tags"},"mark":{"type":"rule","stroke":"black","strokeWidth":11,"strokeCap":"butt"},
 "encoding":{"x":{"datum":386.25,"type":"quantitative"},"x2":{"datum":397.5},"y":{"field":"p","type":"quantitative","title":null}}},
{"data":{"name":"tags"},"mark":{"type":"text","align":"left","baseline":"middle","font":"Liberation Sans","fontSize":10,"fill":"white"},
 "encoding":{"x":{"datum":387.25,"type":"quantitative"},"y":{"field":"p","type":"quantitative","title":null},"text":{"field":"p","format":".5f"}}},
{"data":{"name":"caption"},"mark":{"type":"text","align":"left","baseline":"top","dx":3,"dy":0,"font":"Liberation Sans","fontSize":9,"fill":"black"},
 "encoding":{"x":{"datum":-0.5,"type":"quantitative"},"y":{"datum":1.35316,"type":"quantitative"},"text":{"field":"t"}}}
]
}
